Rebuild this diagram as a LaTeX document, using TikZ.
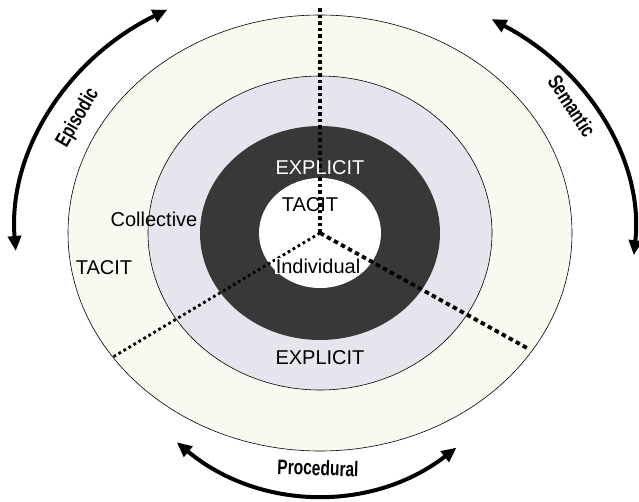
\documentclass[tikz,border=0pt]{standalone}
\usepackage{fontspec}
\setmainfont{Liberation Sans}
\usetikzlibrary{arrows.meta}
\definecolor{outerring}{HTML}{F8F9F1}
\definecolor{midring}{HTML}{E6E4ED}
\definecolor{darkring}{HTML}{383838}
\newcommand{\narrowlbl}[1]{\scalebox{0.74}[1]{#1}}
\tikzset{
  ringedge/.style={draw=black, line width=0.6pt},
  lbl/.style={font=\fontsize{20}{22}\selectfont, anchor=base, inner sep=0pt},
  arclbl/.style={font=\fontsize{21}{24}\selectfont\bfseries, inner sep=0pt},
  cycle/.style={line width=4pt, {Triangle[length=15pt,width=13pt]}-{Triangle[length=15pt,width=13pt]}},
  sepA/.style={line width=3.5pt, dash pattern=on 3.5pt off 3pt},
  sepB/.style={line width=2.8pt, dash pattern=on 2.8pt off 3pt},
  sepC/.style={line width=3.8pt, dash pattern=on 4.5pt off 3.5pt}
}
\begin{document}
\begin{tikzpicture}[x=1pt,y=1pt]
\useasboundingbox (0,0) rectangle (639,501);
\coordinate (c) at (320,268);

% nested rings
\fill[outerring, ringedge] (c) ellipse[x radius=252, y radius=218];
\fill[midring, ringedge] (c) ellipse[x radius=172, y radius=157];
\fill[darkring] (c) ellipse[x radius=120, y radius=107];
\fill[white] (c) ellipse[x radius=61, y radius=55];

% sector separators
\coordinate (top) at (320,493);
\coordinate (ll) at (113,144);
\coordinate (lr) at (527,153);
\draw[sepA] (c) -- (top);
\draw[sepB] (c) -- (ll);
\draw[sepC] (c) -- (lr);

% ring labels
\node[lbl, text=white] (ex1) at (320,326) {EXPLICIT};
\node[lbl] (ta1) at (310,289) {TACIT};
\node[lbl, fill=white, inner sep=1pt] (ind) at (318,228) {Individual};
\node[lbl] (col) at (154,274) {Collective};
\node[lbl] (ta2) at (104,226) {TACIT};
\node[lbl] (ex2) at (320,137) {EXPLICIT};

% memory cycles
\draw[cycle] ([shift={(184:305 and 258)}]c) arc[start angle=184, end angle=120, x radius=305, y radius=258];
\draw[cycle] ([shift={(57:315 and 255)}]c) arc[start angle=57, end angle=-5, x radius=315, y radius=255];
\draw[cycle] ([shift={(233:238 and 262)}]c) arc[start angle=233, end angle=305, x radius=238, y radius=262];

\node[arclbl, rotate=60] (epi) at (78,383) {\narrowlbl{Episodic}};
\node[arclbl, rotate=-57] (sem) at (572,395) {\narrowlbl{Semantic}};
\node[arclbl, rotate=-2] (pro) at (318,33) {\narrowlbl{Procedural}};
\end{tikzpicture}
\end{document}
